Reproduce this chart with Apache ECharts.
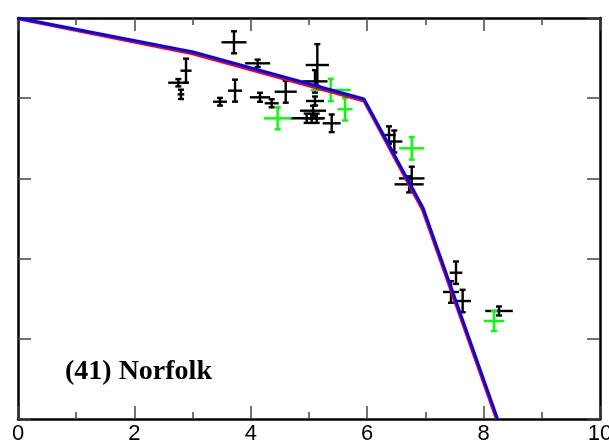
<!DOCTYPE html>
<html>
<head>
<meta charset="utf-8">
<script src="https://cdn.jsdelivr.net/npm/echarts@6/dist/echarts.min.js"></script>
<style>
html,body{margin:0;padding:0;background:#fff;}
#chart{width:609px;height:446px;}
</style>
</head>
<body>
<div id="chart"></div>
<script>
// ---- data ----
const xTicks = [0, 2, 4, 6, 8, 10];
const label = '(41) Norfolk';

// black measurements: x, y, x half-error, y half-error
const blackX    = [3.711, 4.118, 5.143, 5.103, 4.600, 4.158, 4.359, 3.729, 3.471, 2.887, 2.755, 2.800, 5.103, 5.069, 4.960, 5.046, 5.132, 5.390, 6.375, 6.466, 6.765, 6.720, 7.526, 7.440, 7.640, 8.265];
const blackY    = [4.697, 4.435, 4.414, 4.210, 4.081, 4.011, 3.937, 4.094, 3.956, 4.343, 4.193, 4.048, 3.965, 3.844, 3.750, 3.750, 3.750, 3.687, 3.541, 3.460, 3.000, 2.926, 1.824, 1.584, 1.471, 1.347];
const blackXErr = [0.215, 0.215, 0.200, 0.215, 0.190, 0.175, 0.120, 0.120, 0.120, 0.095, 0.175, 0.057, 0.155, 0.223, 0.290, 0.140, 0.140, 0.155, 0.115, 0.137, 0.220, 0.250, 0.108, 0.137, 0.143, 0.237];
const blackYErr = [0.137, 0.046, 0.260, 0.140, 0.137, 0.056, 0.050, 0.137, 0.048, 0.150, 0.046, 0.058, 0.056, 0.062, 0.058, 0.058, 0.058, 0.110, 0.108, 0.137, 0.146, 0.100, 0.140, 0.135, 0.140, 0.056];

// green measurements
const greenX    = [5.373, 5.619, 4.462, 6.765, 8.179];
const greenY    = [4.102, 3.862, 3.749, 3.375, 1.222];
const greenXErr = [0.344, 0.129, 0.241, 0.215, 0.175];
const greenYErr = [0.140, 0.140, 0.137, 0.141, 0.125];

// model curves
const redX  = [0, 3.0, 5.945, 6.95, 8.22];
const redY  = [4.99, 4.555, 3.965, 2.61, 0];
const blueX = [0, 3.007, 5.945, 6.96, 8.24];
const blueY = [5.0, 4.576, 3.99, 2.63, 0];

// ---- build ----
function zip4(a, b, c, d) { return a.map((v, i) => [v, b[i], c[i], d[i]]); }
function zip2(a, b) { return a.map((v, i) => [v, b[i]]); }

function makeErrRender(color) {
  return function (params, api) {
    const x = api.value(0), y = api.value(1), ex = api.value(2), ey = api.value(3);
    const l = api.coord([x - ex, y]), r = api.coord([x + ex, y]);
    const t = api.coord([x, y + ey]), b = api.coord([x, y - ey]);
    const cap = 3;
    const st = { stroke: color, lineWidth: 2.4 };
    return {
      type: 'group',
      children: [
        { type: 'line', shape: { x1: l[0], y1: l[1], x2: r[0], y2: r[1] }, style: st },
        { type: 'line', shape: { x1: t[0], y1: t[1], x2: b[0], y2: b[1] }, style: st },
        { type: 'line', shape: { x1: t[0] - cap, y1: t[1], x2: t[0] + cap, y2: t[1] }, style: st },
        { type: 'line', shape: { x1: b[0] - cap, y1: b[1], x2: b[0] + cap, y2: b[1] }, style: st }
      ]
    };
  };
}

const chart = echarts.init(document.getElementById('chart'), null, { renderer: 'canvas' });

const axisLine = { show: true, onZero: false, lineStyle: { color: '#000', width: 2.5 } };
const tickStyle = { color: '#444', width: 1.5 };

const option = {
  animation: false,
  backgroundColor: '#fff',
  grid: { left: 18, right: 9, top: 18, bottom: 27, containLabel: false, outerBoundsMode: 'none' },
  xAxis: [
    {
      type: 'value', min: 0, max: 10, interval: 2, position: 'bottom',
      axisLine: axisLine,
      axisTick: { show: true, inside: true, length: 13, lineStyle: tickStyle },
      minorTick: { show: true, splitNumber: 2, length: 7, lineStyle: tickStyle },
      axisLabel: {
        show: true, color: '#000', fontSize: 22, fontFamily: 'Liberation Sans, Arial, sans-serif',
        margin: 4, hideOverlap: false,
        formatter: v => xTicks.includes(v) ? String(v) : ''
      },
      splitLine: { show: false }
    },
    {
      type: 'value', min: 0, max: 10, interval: 2, position: 'top',
      axisLine: axisLine,
      axisTick: { show: true, inside: true, length: 13, lineStyle: tickStyle },
      minorTick: { show: true, splitNumber: 2, length: 7, lineStyle: tickStyle },
      axisLabel: { show: false },
      splitLine: { show: false }
    }
  ],
  yAxis: [
    {
      type: 'value', min: 0, max: 5, interval: 1, position: 'left',
      axisLine: axisLine,
      axisTick: { show: true, inside: true, length: 13, lineStyle: tickStyle },
      axisLabel: { show: false },
      splitLine: { show: false }
    },
    {
      type: 'value', min: 0, max: 5, interval: 1, position: 'right',
      axisLine: axisLine,
      axisTick: { show: true, inside: true, length: 13, lineStyle: tickStyle },
      axisLabel: { show: false },
      splitLine: { show: false }
    }
  ],
  graphic: [
    {
      type: 'text', left: 65, top: 358, z: 100,
      style: { text: label, fill: '#000', font: 'bold 28px "Liberation Serif", "Times New Roman", serif' }
    }
  ],
  series: [
    {
      type: 'custom', name: 'black', xAxisIndex: 0, yAxisIndex: 0, z: 2,
      renderItem: makeErrRender('#000'),
      encode: { x: 0, y: 1 },
      data: zip4(blackX, blackY, blackXErr, blackYErr)
    },
    {
      type: 'custom', name: 'green', xAxisIndex: 0, yAxisIndex: 0, z: 3,
      renderItem: makeErrRender('#00ff00'),
      encode: { x: 0, y: 1 },
      data: zip4(greenX, greenY, greenXErr, greenYErr)
    },
    {
      type: 'line', name: 'red', xAxisIndex: 0, yAxisIndex: 0, z: 4,
      showSymbol: false, symbol: 'none', clip: true,
      lineStyle: { color: '#ff0000', width: 3 },
      data: zip2(redX, redY)
    },
    {
      type: 'line', name: 'blue', xAxisIndex: 0, yAxisIndex: 0, z: 5,
      showSymbol: false, symbol: 'none', clip: true,
      lineStyle: { color: '#0000ff', width: 3 },
      data: zip2(blueX, blueY)
    }
  ]
};
chart.setOption(option);
</script>
</body>
</html>
